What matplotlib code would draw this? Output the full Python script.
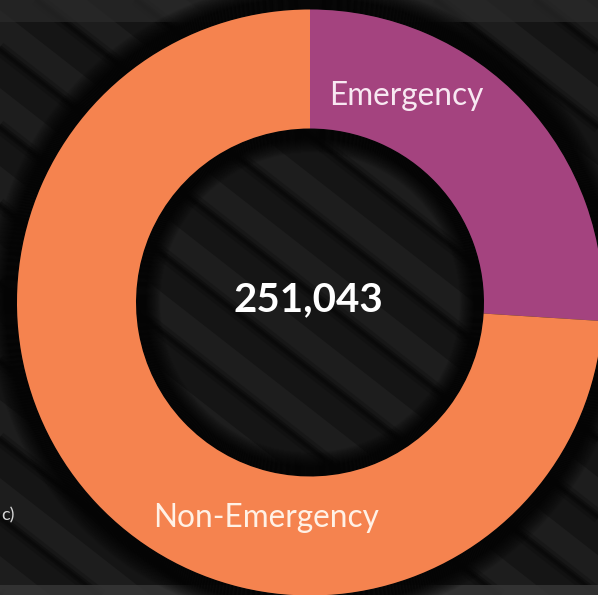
import numpy as np
import matplotlib
matplotlib.use("Agg")
import matplotlib.pyplot as plt
from matplotlib.patches import Polygon, Wedge, Rectangle

# Call volume split
categories = ["Emergency", "Non-Emergency"]
call_counts = [65300, 185743]
slice_colors = ["#A4437F", "#F5834F"]
label_colors = ["#F8E8F2", "#FFF1E6"]

W, H = 598, 595
fig = plt.figure(figsize=(W / 100, H / 100), dpi=100)
fig.patch.set_facecolor("#151515")
ax = fig.add_axes([0, 0, 1, 1])
ax.set_facecolor("#151515")

# Diagonal striped backdrop
theta = np.deg2rad(38)
slope = -np.tan(theta)
period = 78
xs = np.array([-50, W + 50])
for k in range(-12, 22):
    c0 = k * period
    c1 = c0 + period * 0.5
    poly = [(xs[0], slope * xs[0] + c0), (xs[1], slope * xs[1] + c0),
            (xs[1], slope * xs[1] + c1), (xs[0], slope * xs[0] + c1)]
    ax.add_patch(Polygon(poly, closed=True, facecolor="#1d1d1d",
                         edgecolor="none", zorder=0))
    # soft dark groove along each band edge
    for lw, a in [(10, 0.25), (5, 0.45), (2, 0.6)]:
        ax.plot(xs, slope * xs + c0, color="#080808", lw=lw, alpha=a,
                zorder=0.5, solid_capstyle="butt")

# Lighter textured strips at the top and bottom edges
ax.add_patch(Rectangle((0, H - 22), W, 22, facecolor="#2a2a2a",
                       edgecolor="none", alpha=0.7, zorder=0.6))
ax.add_patch(Rectangle((0, 0), W, 10, facecolor="#363636",
                       edgecolor="none", alpha=0.85, zorder=0.6))

cx, cy = 310, H - 302.5
r_out, r_in = 293, 174

# Dark halo around the ring and inside the hole: solid core, soft fade
def halo(r_start, direction, solid, fade):
    steps = solid + fade
    for i in range(steps):
        a = 0.92 if i < solid else 0.92 * (1 - (i - solid + 1) / (fade + 1))
        r = r_start + direction * i
        outer = r + 1.2 if direction > 0 else r + 0.2
        ax.add_patch(Wedge((cx, cy), outer, 0, 360, width=1.4,
                           facecolor="#040404", edgecolor="none",
                           alpha=a, zorder=1))

halo(r_out, +1, 12, 16)
halo(r_in, -1, 10, 14)

ax.pie(call_counts, colors=slice_colors, startangle=90, counterclock=False,
       radius=r_out, center=(cx, cy), frame=True,
       wedgeprops=dict(width=r_out - r_in, edgecolor="none", zorder=2))

ax.set_xlim(0, W)
ax.set_ylim(0, H)
ax.set_aspect("auto")
ax.axis("off")

font = ["Lato", "DejaVu Sans"]
ax.text(406, H - 96, categories[0], color=label_colors[0], fontsize=22.7,
        family=font, ha="center", va="center", zorder=3)
ax.text(266, H - 518, categories[1], color=label_colors[1], fontsize=22.7,
        family=font, ha="center", va="center", zorder=3)
ax.text(308, H - 300, f"{sum(call_counts):,}", color="white", fontsize=29,
        family=font, fontweight="bold", ha="center", va="center", zorder=3)
ax.text(1, H - 515, "c)", color="#d8d8d8", fontsize=13, family=font,
        ha="left", va="center", zorder=3)

fig.savefig("out.png", dpi=100, facecolor=fig.get_facecolor())
